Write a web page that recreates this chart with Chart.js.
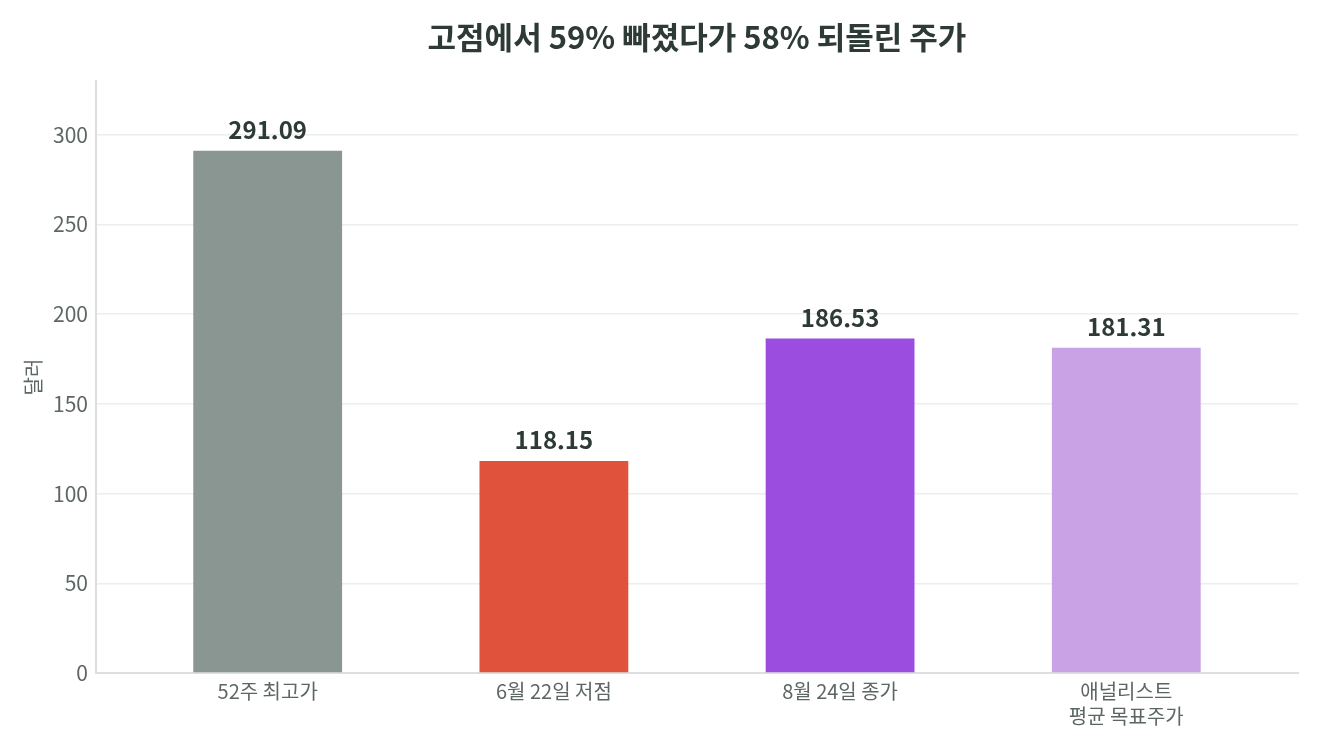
<!DOCTYPE html>
<html lang="ko">
<head>
<meta charset="utf-8">
<script src="https://cdn.jsdelivr.net/npm/chart.js@4"></script>
<style>
  html, body { margin: 0; padding: 0; background: #fff; }
  #wrap { width: 1320px; height: 750px; }
</style>
</head>
<body>
<div id="wrap"><canvas id="chart" width="1320" height="750"></canvas></div>
<script>
const categories = ['52주 최고가', '6월 22일 저점', '8월 24일 종가', ['애널리스트', '평균 목표주가']];
const prices = [291.09, 118.15, 186.53, 181.31];
const priceLabels = ['291.09', '118.15', '186.53', '181.31'];
const barColors = ['#8a9691', '#e0523b', '#9b4ddf', '#c9a2e6'];
const yTicks = [0, 50, 100, 150, 200, 250, 300];
const chartTitle = '고점에서 59% 빠졌다가 58% 되돌린 주가';

const FONT = "'Noto Sans CJK KR', 'Noto Sans', sans-serif";

// value labels above each bar, and the title centred over the plot area
const annotate = {
    id: 'annotate',
    afterDatasetsDraw(chart) {
        const ctx = chart.ctx;
        const meta = chart.getDatasetMeta(0);
        ctx.save();
        ctx.font = `bold 24px ${FONT}`;
        ctx.fillStyle = '#2d3a35';
        ctx.textAlign = 'center';
        ctx.textBaseline = 'bottom';
        meta.data.forEach((bar, i) => {
            ctx.fillText(priceLabels[i], bar.x, bar.y - 9);
        });

        const area = chart.chartArea;
        ctx.font = `bold 31px ${FONT}`;
        ctx.textBaseline = 'middle';
        ctx.fillText(chartTitle, (area.left + area.right) / 2, 37);
        ctx.restore();
    }
};

new Chart(document.getElementById('chart').getContext('2d'), {
    type: 'bar',
    data: {
        datasets: [{
            data: prices.map((v, i) => ({ x: i, y: v })),
            backgroundColor: barColors,
            barPercentage: 0.52,
            categoryPercentage: 1
        }]
    },
    options: {
        responsive: false,
        animation: false,
        layout: { padding: { left: 21, right: 22, top: 81, bottom: 15 } },
        plugins: {
            legend: { display: false },
            tooltip: { enabled: false }
        },
        scales: {
            x: {
                type: 'linear',
                min: -0.6,
                max: 3.6,
                offset: false,
                afterBuildTicks: scale => {
                    scale.ticks = categories.map((c, i) => ({ value: i }));
                },
                grid: { display: false, drawTicks: false },
                border: { color: '#dcdfdf', width: 2 },
                ticks: {
                    color: '#5c6663',
                    font: { family: FONT, size: 20, lineHeight: 1.25 },
                    padding: 6,
                    maxRotation: 0,
                    callback: value => categories[value]
                }
            },
            y: {
                min: 0,
                max: 330,
                afterBuildTicks: scale => {
                    scale.ticks = yTicks.map(v => ({ value: v }));
                },
                grid: { color: '#eceeee', lineWidth: 1.5, drawTicks: false },
                border: { color: '#dcdfdf', width: 2 },
                ticks: {
                    color: '#5c6663',
                    font: { family: FONT, size: 21 },
                    padding: 8
                },
                title: {
                    display: true,
                    text: '달러',
                    color: '#5c6663',
                    font: { family: FONT, size: 20 },
                    padding: { top: 0, bottom: 0 }
                }
            }
        }
    },
    plugins: [annotate]
});
</script>
</body>
</html>
